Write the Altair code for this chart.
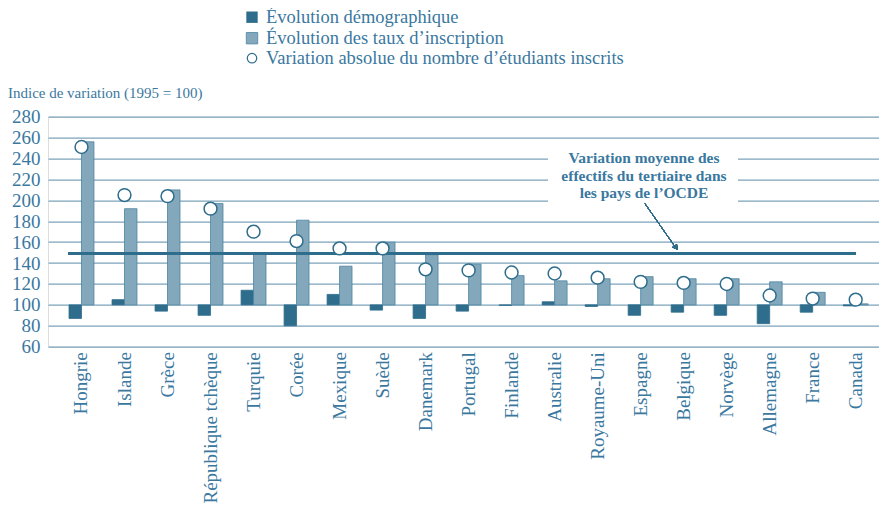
import altair as alt
import pandas as pd

countries = ["Hongrie", "Islande", "Grèce", "République tchèque", "Turquie", "Corée",
             "Mexique", "Suède", "Danemark", "Portugal", "Finlande", "Australie",
             "Royaume-Uni", "Espagne", "Belgique", "Norvège", "Allemagne", "France", "Canada"]
evol_demo = [87, 105, 94, 90, 114, 80, 110, 95, 87, 94, 99.5, 103, 98.5, 90, 93, 90, 82, 93, 99]
evol_taux = [256, 192, 210, 197, 149, 181, 137, 160, 148, 139, 128, 123, 125, 127, 125, 125, 122, 112, 101]
var_abs = [251, 205, 204, 192, 170, 161, 154, 154, 134, 133, 131, 130, 126, 122, 121, 120, 109, 106, 105]
moyenne_ocde = 149
base = 100

series_names = ["Évolution démographique", "Évolution des taux d'inscription"]
legend_labels = ["Évolution démographique", "Évolution des taux d’inscription",
                 "Variation absolue du nombre d’étudiants inscrits"]
y_ticks = [60, 80, 100, 120, 140, 160, 180, 200, 220, 240, 260, 280]
y_title = "Indice de variation (1995 = 100)"
annotation = ["Variation moyenne des", "effectifs du tertiaire dans", "les pays de l’OCDE"]

FONT = "Liberation Serif"
TXT = "#3a78a0"
DARK = "#2f6d8c"
LIGHT = "#84a8bb"
GRID = "#7ba3ba"

bars_df = pd.DataFrame({
    "pays": countries * 2,
    "serie": [series_names[0]] * len(countries) + [series_names[1]] * len(countries),
    "valeur": evol_demo + evol_taux,
})
pts_df = pd.DataFrame({"pays": countries, "valeur": var_abs})

xscale = alt.Scale(domain=countries, paddingInner=0.42, paddingOuter=0.37, align=0.66)
yscale = alt.Scale(domain=[60, 280], nice=False, zero=False)

xaxis = alt.Axis(title=None, labelAngle=-90, labelFont=FONT, labelFontSize=19,
                 labelColor=TXT, domain=False, ticks=False, labelPadding=5, grid=False,
                 labelOverlap=False)
yaxis = alt.Axis(title=None, values=y_ticks, tickCount=12, labelFont=FONT, labelFontSize=19,
                 labelColor=TXT, domain=False, ticks=False, labelPadding=8,
                 labelOverlap=False, labelFlush=False, labelBound=False,
                 grid=True, gridColor=GRID, gridWidth=1.3)

# white patch to break gridlines behind the annotation
patch = alt.Chart(pts_df).mark_rect(color="white").encode(
    x=alt.value(500), x2=alt.value(690), y=alt.value(30), y2=alt.value(95))

bars = alt.Chart(bars_df).mark_bar(strokeWidth=0.8).encode(
    x=alt.X("pays:N", sort=countries, scale=xscale, axis=xaxis),
    xOffset=alt.XOffset("serie:N", sort=series_names),
    y=alt.Y("valeur:Q", scale=yscale, axis=yaxis),
    y2=alt.datum(base),
    fill=alt.Fill("serie:N", scale=alt.Scale(domain=series_names, range=[DARK, LIGHT]), legend=None),
    stroke=alt.Stroke("serie:N", scale=alt.Scale(domain=series_names, range=[DARK, "#4a84a2"]), legend=None),
)

points = alt.Chart(pts_df).mark_point(shape="circle", filled=True, fill="white", stroke=DARK,
                                      strokeWidth=1.5, size=165, opacity=1).encode(
    x=alt.X("pays:N", sort=countries, scale=xscale, axis=xaxis),
    y=alt.Y("valeur:Q", scale=yscale, axis=yaxis),
)

avg_line = alt.Chart(pts_df).mark_rule(color=DARK, strokeWidth=2.5).encode(
    y=alt.datum(moyenne_ocde), x=alt.value(20), x2=alt.value(808))

arrow = alt.Chart(pts_df).mark_rule(color=DARK, strokeWidth=1).encode(
    x=alt.value(597), y=alt.value(87), x2=alt.value(627), y2=alt.value(130))
arrow_head = alt.Chart(pts_df).mark_point(shape="triangle-up", filled=True, color=DARK,
                                          size=35, angle=146, opacity=1).encode(
    x=alt.value(628), y=alt.value(131))

layers = [patch, bars, avg_line, points, arrow, arrow_head]

for i, line in enumerate(annotation):
    layers.append(alt.Chart(pd.DataFrame({"t": [line]})).mark_text(
        font=FONT, fontSize=15.5, fontWeight="bold", color=TXT, align="center", baseline="middle"
    ).encode(text="t:N", x=alt.value(596), y=alt.value(41.5 + 17.5 * i)))

# manual legend
leg_y = [-99.5, -78.5, -58.5]
layers.append(alt.Chart(pd.DataFrame({"t": [0]})).mark_square(filled=True, color=DARK, size=130, opacity=1)
              .encode(x=alt.value(204), y=alt.value(leg_y[0])))
layers.append(alt.Chart(pd.DataFrame({"t": [0]})).mark_square(filled=True, fill=LIGHT, stroke="#4a84a2",
                                                                strokeWidth=0.8, size=130, opacity=1)
              .encode(x=alt.value(204), y=alt.value(leg_y[1])))
layers.append(alt.Chart(pd.DataFrame({"t": [0]})).mark_point(shape="circle", filled=True, fill="white",
                                                               stroke=DARK, strokeWidth=1.2, size=90, opacity=1)
              .encode(x=alt.value(204), y=alt.value(leg_y[2])))
for lab, yy in zip(legend_labels, leg_y):
    layers.append(alt.Chart(pd.DataFrame({"t": [lab]})).mark_text(
        font=FONT, fontSize=18.5, color=TXT, align="left", baseline="middle"
    ).encode(text="t:N", x=alt.value(218), y=alt.value(yy)))

layers.append(alt.Chart(pd.DataFrame({"t": [y_title]})).mark_text(
    font=FONT, fontSize=15, color=TXT, align="left", baseline="middle"
).encode(text="t:N", x=alt.value(-40), y=alt.value(-23.5)))

chart = alt.layer(*layers).properties(
    width=831, height=230,
    autosize=alt.AutoSizeParams(type="none"),
    padding={"left": 40, "top": 108.7, "right": 0, "bottom": 160},
).configure_view(stroke=None).configure(background="white")

chart.save("out.html", embed_options={"renderer": "svg", "actions": False})
